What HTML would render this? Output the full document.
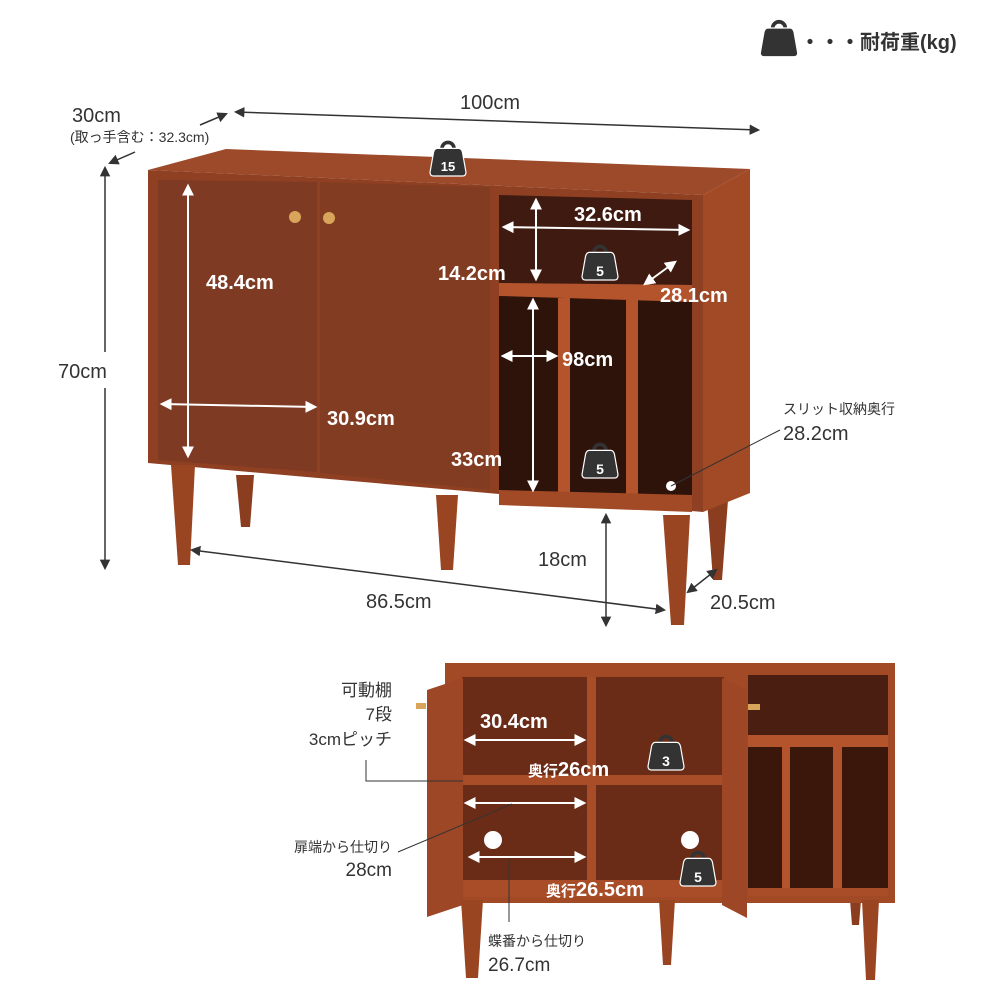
<!DOCTYPE html>
<html><head><meta charset="utf-8"><style>
html,body{margin:0;padding:0;background:#fff;}
svg{display:block;}
text{font-family:"Liberation Sans","Noto Sans CJK JP",sans-serif;}
</style></head><body>
<svg width="1000" height="1000" viewBox="0 0 1000 1000" xmlns="http://www.w3.org/2000/svg">
<defs>
<marker id="ad" viewBox="0 0 10 10" refX="8" refY="5" markerWidth="7" markerHeight="7" orient="auto-start-reverse"><path d="M0,0 L10,5 L0,10 z" fill="#333"/></marker>
<marker id="aw" viewBox="0 0 10 10" refX="8" refY="5" markerWidth="6" markerHeight="6" orient="auto-start-reverse"><path d="M0,0 L10,5 L0,10 z" fill="#fff"/></marker>
<g id="wt"><path d="M-5,-8 a5,5 0 0 1 10,0" fill="none" stroke="#333" stroke-width="3"/><path d="M-9,-8 L9,-8 Q11,-8 12,-5 L15,12 Q15,15 12,15 L-12,15 Q-15,15 -15,12 L-12,-5 Q-11,-8 -9,-8z" fill="#333" stroke="#fff" stroke-width="1"/></g>
</defs>

<!-- legend -->
<g transform="translate(779,38) scale(1.25)"><use href="#wt"/></g>
<text x="800" y="49" font-size="20" font-weight="bold" fill="#333">・・・耐荷重(kg)</text>

<!-- top dims -->
<line x1="236" y1="112" x2="758" y2="130" stroke="#333" stroke-width="1.5" marker-start="url(#ad)" marker-end="url(#ad)"/>
<text x="460" y="109" font-size="20" fill="#333">100cm</text>
<text x="72" y="122" font-size="20" fill="#333">30cm</text>
<text x="70" y="142" font-size="14" fill="#333">(取っ手含む：32.3cm)</text>
<line x1="200" y1="125" x2="226" y2="114" stroke="#333" stroke-width="1.5" marker-end="url(#ad)"/>
<line x1="135" y1="152" x2="110" y2="163" stroke="#333" stroke-width="1.5" marker-end="url(#ad)"/>
<line x1="105" y1="168" x2="105" y2="568" stroke="#333" stroke-width="1.5" marker-start="url(#ad)" marker-end="url(#ad)"/>
<rect x="60" y="352" width="80" height="36" fill="#fff"/>
<text x="58" y="378" font-size="20" fill="#333">70cm</text>

<!-- main cabinet legs back -->
<polygon points="236,475 254,475 250,527 241,527" fill="#8a3d1f"/>
<polygon points="707,500 728,500 722,580 713,580" fill="#8a3d1f"/>
<polygon points="148,170 226,149 750,169 703,195" fill="#9c4a2a"/>
<polygon points="703,195 750,169 750,493 703,512" fill="#a24a25"/>
<polygon points="148,170 703,195 703,512 148,463" fill="#8f4023"/>
<polygon points="158,180 317,182 317,472 158,460" fill="#7e3a22"/>
<polygon points="320,182 490,187 490,490 320,473" fill="#823c22"/>
<polygon points="499,195 692,200 692,285 499,283" fill="#3f1a10"/>
<polygon points="499,283 692,285 692,302 499,296" fill="#b3542c"/>
<polygon points="499,296 692,302 692,505 499,500" fill="#2e130b"/>
<polygon points="558,298 570,298 570,502 558,502" fill="#b3542c"/>
<polygon points="626,300 638,300 638,504 626,504" fill="#b3542c"/>
<polygon points="499,490 692,495 692,512 499,505" fill="#a24a25"/>
<circle cx="295" cy="217" r="6" fill="#d9a55a"/>
<circle cx="329" cy="218" r="6" fill="#d9a55a"/>
<polygon points="171,465 195,465 190,565 178,565" fill="#9a4522"/>
<polygon points="436,495 458,495 453,570 441,570" fill="#9a4522"/>
<polygon points="663,515 690,515 684,625 671,625" fill="#9a4522"/>

<!-- main labels -->
<g transform="translate(448,158) scale(1.2)"><use href="#wt"/></g>
<text x="448" y="171" font-size="13" font-weight="bold" fill="#fff" text-anchor="middle">15</text>
<line x1="188" y1="186" x2="188" y2="456" stroke="#fff" stroke-width="2" marker-start="url(#aw)" marker-end="url(#aw)"/>
<text x="206" y="289" font-size="20" font-weight="bold" fill="#fff">48.4cm</text>
<line x1="162" y1="404" x2="315" y2="407" stroke="#fff" stroke-width="2" marker-start="url(#aw)" marker-end="url(#aw)"/>
<text x="327" y="425" font-size="20" font-weight="bold" fill="#fff">30.9cm</text>
<line x1="536" y1="200" x2="536" y2="279" stroke="#fff" stroke-width="2" marker-start="url(#aw)" marker-end="url(#aw)"/>
<line x1="504" y1="227" x2="688" y2="230" stroke="#fff" stroke-width="2" marker-start="url(#aw)" marker-end="url(#aw)"/>
<text x="574" y="221" font-size="20" font-weight="bold" fill="#fff">32.6cm</text>
<text x="438" y="280" font-size="20" font-weight="bold" fill="#fff">14.2cm</text>
<g transform="translate(600,262) scale(1.2)"><use href="#wt"/></g>
<text x="600" y="276" font-size="14" font-weight="bold" fill="#fff" text-anchor="middle">5</text>
<line x1="645" y1="284" x2="675" y2="262" stroke="#fff" stroke-width="2" marker-start="url(#aw)" marker-end="url(#aw)"/>
<text x="660" y="302" font-size="20" font-weight="bold" fill="#fff">28.1cm</text>
<line x1="533" y1="300" x2="533" y2="490" stroke="#fff" stroke-width="2" marker-start="url(#aw)" marker-end="url(#aw)"/>
<line x1="503" y1="356" x2="556" y2="356" stroke="#fff" stroke-width="2" marker-start="url(#aw)" marker-end="url(#aw)"/>
<text x="562" y="366" font-size="20" font-weight="bold" fill="#fff">98cm</text>
<text x="451" y="466" font-size="20" font-weight="bold" fill="#fff">33cm</text>
<g transform="translate(600,460) scale(1.2)"><use href="#wt"/></g>
<text x="600" y="474" font-size="14" font-weight="bold" fill="#fff" text-anchor="middle">5</text>
<circle cx="671" cy="486" r="5" fill="#fff"/>
<line x1="671" y1="486" x2="780" y2="430" stroke="#333" stroke-width="1"/>
<text x="783" y="414" font-size="14" fill="#333">スリット収納奥行</text>
<text x="783" y="440" font-size="20" fill="#333">28.2cm</text>
<line x1="606" y1="515" x2="606" y2="625" stroke="#333" stroke-width="1.5" marker-start="url(#ad)" marker-end="url(#ad)"/>
<text x="538" y="566" font-size="20" fill="#333">18cm</text>
<line x1="192" y1="550" x2="664" y2="610" stroke="#333" stroke-width="1.5" marker-start="url(#ad)" marker-end="url(#ad)"/>
<text x="366" y="608" font-size="20" fill="#333">86.5cm</text>
<line x1="688" y1="592" x2="716" y2="570" stroke="#333" stroke-width="1.5" marker-start="url(#ad)" marker-end="url(#ad)"/>
<text x="710" y="609" font-size="20" fill="#333">20.5cm</text>

<!-- second cabinet -->
<polygon points="850,900 861,900 859,925 852,925" fill="#8a3d1f"/>
<rect x="445" y="663" width="450" height="240" fill="#a24a25"/>
<rect x="462" y="677" width="262" height="220" fill="#6b2c17"/>
<rect x="587" y="677" width="9" height="220" fill="#a84d28"/>
<rect x="462" y="775" width="262" height="10" fill="#a84d28"/>
<rect x="462" y="880" width="262" height="17" fill="#a84d28"/>
<rect x="748" y="675" width="140" height="60" fill="#4a1e10"/>
<rect x="748" y="735" width="140" height="12" fill="#b3542c"/>
<rect x="748" y="747" width="140" height="148" fill="#3a160b"/>
<rect x="782" y="747" width="8" height="148" fill="#b3542c"/>
<rect x="833" y="747" width="9" height="148" fill="#b3542c"/>
<rect x="748" y="888" width="140" height="8" fill="#a84d28"/>
<polygon points="427,690 463,678 463,905 427,917" fill="#9d4726"/>
<polygon points="722,678 747,690 747,918 722,905" fill="#9d4726"/>
<rect x="416" y="703" width="10" height="6" fill="#d9a55a"/>
<rect x="748" y="704" width="12" height="6" fill="#d9a55a"/>
<polygon points="461,900 483,900 478,978 466,978" fill="#9a4522"/>
<polygon points="659,900 675,900 671,965 663,965" fill="#9a4522"/>
<polygon points="862,900 879,900 875,980 866,980" fill="#9a4522"/>

<line x1="466" y1="740" x2="584" y2="740" stroke="#fff" stroke-width="2" marker-start="url(#aw)" marker-end="url(#aw)"/>
<text x="480" y="728" font-size="20" font-weight="bold" fill="#fff">30.4cm</text>
<text x="528" y="776" font-size="15" font-weight="bold" fill="#fff">奥行<tspan font-size="20">26cm</tspan></text>
<g transform="translate(666,752) scale(1.2)"><use href="#wt"/></g>
<text x="666" y="766" font-size="14" font-weight="bold" fill="#fff" text-anchor="middle">3</text>
<line x1="466" y1="803" x2="584" y2="803" stroke="#fff" stroke-width="2" marker-start="url(#aw)" marker-end="url(#aw)"/>
<circle cx="493" cy="840" r="9" fill="#fff"/>
<circle cx="690" cy="840" r="9" fill="#fff"/>
<line x1="470" y1="857" x2="584" y2="857" stroke="#fff" stroke-width="2" marker-start="url(#aw)" marker-end="url(#aw)"/>
<text x="546" y="896" font-size="15" font-weight="bold" fill="#fff">奥行<tspan font-size="20">26.5cm</tspan></text>
<g transform="translate(698,868) scale(1.2)"><use href="#wt"/></g>
<text x="698" y="882" font-size="14" font-weight="bold" fill="#fff" text-anchor="middle">5</text>

<text x="392" y="696" font-size="17" fill="#333" text-anchor="end">可動棚</text>
<text x="392" y="720" font-size="17" fill="#333" text-anchor="end">7段</text>
<text x="392" y="745" font-size="17" fill="#333" text-anchor="end">3cmピッチ</text>
<polyline points="366,760 366,781 463,781" fill="none" stroke="#333" stroke-width="1"/>
<line x1="398" y1="852" x2="512" y2="804" stroke="#333" stroke-width="1"/>
<text x="392" y="852" font-size="14" fill="#333" text-anchor="end">扉端から仕切り</text>
<text x="392" y="876" font-size="19" fill="#333" text-anchor="end">28cm</text>
<line x1="509" y1="858" x2="509" y2="922" stroke="#333" stroke-width="1"/>
<text x="488" y="946" font-size="14" fill="#333">蝶番から仕切り</text>
<text x="488" y="971" font-size="19" fill="#333">26.7cm</text>
</svg>
</body></html>
